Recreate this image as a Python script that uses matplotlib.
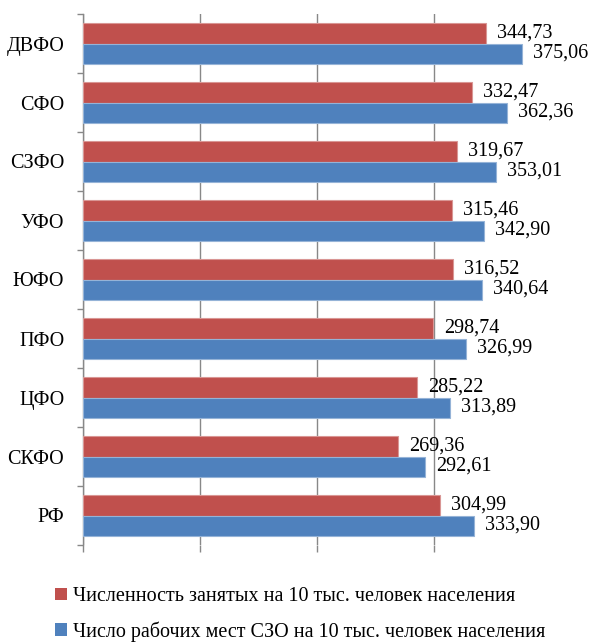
import matplotlib.pyplot as plt
import numpy as np
from matplotlib.patches import Patch

# Data
regions = ['ДВФО', 'СФО', 'СЗФО', 'УФО', 'ЮФО', 'ПФО', 'ЦФО', 'СКФО', 'РФ']
employed = [344.73, 332.47, 319.67, 315.46, 316.52, 298.74, 285.22, 269.36, 304.99]
workplaces = [375.06, 362.36, 353.01, 342.90, 340.64, 326.99, 313.89, 292.61, 333.90]
series_names = ['Численность занятых на 10 тыс. человек населения',
                'Число рабочих мест СЗО на 10 тыс. человек населения']

RED = '#C0504D'
BLUE = '#4F81BD'

plt.rcParams['font.family'] = ['Liberation Serif', 'DejaVu Serif']
plt.rcParams['font.size'] = 14

fig = plt.figure(figsize=(5.90, 6.42), dpi=100)
ax = fig.add_axes([83 / 590, 1 - 545 / 642, (551 - 83) / 590, (545 - 14) / 642])

n = len(regions)
y = np.arange(n)
h = 0.34

bars_red = ax.barh(y - h / 2, employed, height=h, color=RED,
                   edgecolor='#D99694', linewidth=0.8, zorder=3)
bars_blue = ax.barh(y + h / 2, workplaces, height=h, color=BLUE,
                    edgecolor='#95B3D7', linewidth=0.8, zorder=3)

def fmt(v):
    return f"{v:.2f}".replace('.', ',')

for bars, vals in ((bars_red, employed), (bars_blue, workplaces)):
    for b, v in zip(bars, vals):
        ax.annotate(fmt(v), (v, b.get_y() + b.get_height() / 2),
                    xytext=(8, 0), textcoords='offset points',
                    ha='left', va='center', fontsize=14.5, color='black')

ax.set_xlim(0, 400)
ax.set_ylim(n - 0.5, -0.5)

ax.set_xticks([0, 100, 200, 300])
ax.set_xticklabels([])
ax.grid(True, axis='x', color='#888888', linewidth=1.0, zorder=0)
ax.tick_params(axis='x', direction='out', length=5, color='#888888', width=1.0)

ax.set_yticks(y)
ax.set_yticklabels(regions, fontsize=14.5)
ax.set_yticks(np.arange(n + 1) - 0.5, minor=True)
ax.tick_params(axis='y', which='major', length=0, pad=13.5)
ax.tick_params(axis='y', which='minor', direction='out', length=4,
               color='#888888', width=1.0)

for s in ('top', 'right', 'bottom'):
    ax.spines[s].set_visible(False)
ax.spines['left'].set_color('#888888')
ax.spines['left'].set_linewidth(1.0)

handles = [Patch(facecolor=RED, edgecolor='none'),
           Patch(facecolor=BLUE, edgecolor='none')]
fig.legend(handles, series_names, loc='upper left',
           bbox_to_anchor=(55 / 590, 1 - 587 / 642), frameon=False,
           handlelength=0.6, handleheight=0.6, handletextpad=0.3,
           labelspacing=0.75, borderaxespad=0, borderpad=0, fontsize=14.5)

fig.savefig('out.png', dpi=100)
